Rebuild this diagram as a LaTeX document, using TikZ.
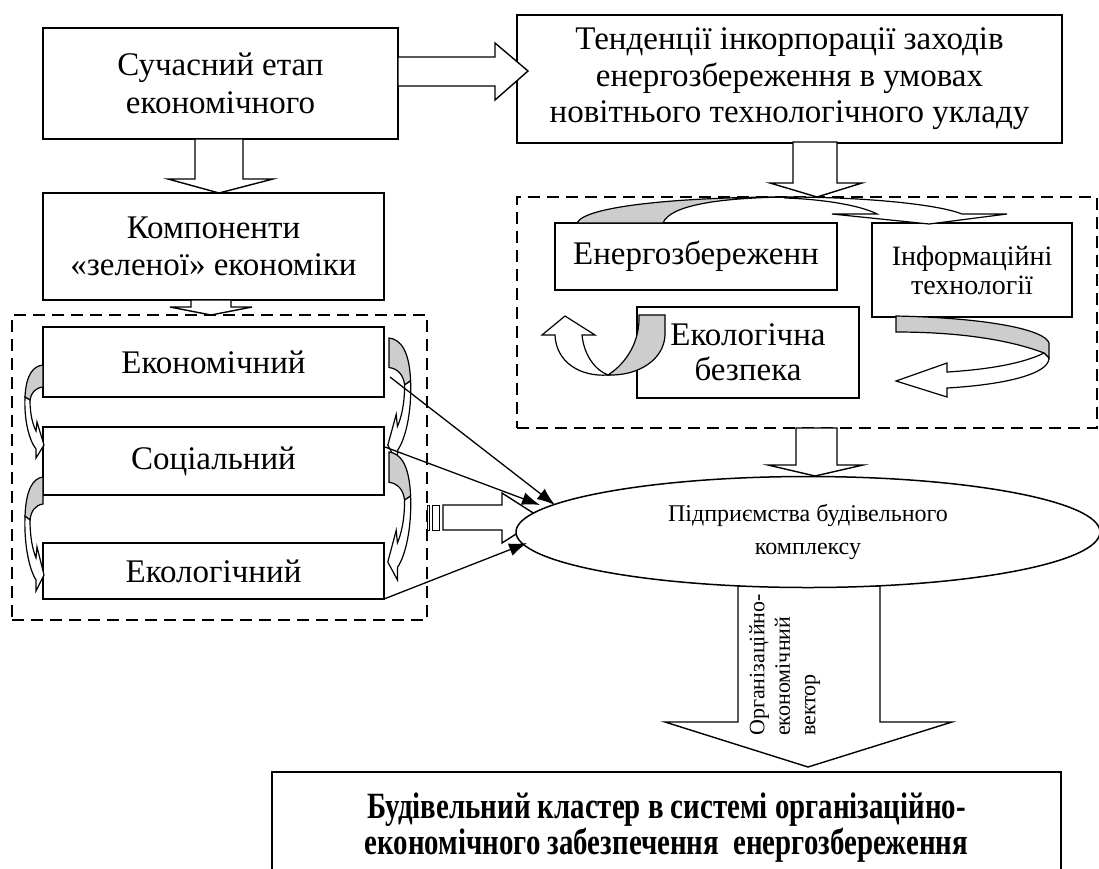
\documentclass[tikz,border=0pt]{standalone}
\usepackage{fontspec}
\setmainfont{Liberation Serif}
\newfontfamily\condbold[FakeStretch=0.78]{Liberation Serif Bold}
\usetikzlibrary{shapes.geometric,arrows.meta,calc}
\definecolor{bandgray}{RGB}{205,205,205}
\tikzset{
  box/.style={draw,line width=1.5pt,fill=white,align=center,inner sep=0pt,font=\fontsize{33}{37.5}\selectfont},
  dbox/.style={draw,line width=1.4pt,dash pattern=on 12pt off 7pt,inner sep=0pt},
  blockarrow/.style={draw,line width=1.4pt,fill=white,line join=miter},
  curv/.style={draw,line width=1.2pt},
  conn/.style={line width=1.3pt,-{Latex[length=18pt,width=13pt]}},
}
\newcommand\sidearrowshape{%
  \path[curv,fill=bandgray] (0,0) .. controls (10,1) and (17,10) .. (18,32) -- (13,35) .. controls (12,28) and (8,23) .. (0,22) -- cycle;
  \path[curv,fill=white] (13,35) .. controls (13,50) and (10,60) .. (7,66) -- (6,57) -- (-1,80) -- (7,93) -- (7,84) .. controls (14,75) and (19,55) .. (18,32) -- cycle;
}
\begin{document}
\begin{tikzpicture}[x=1pt,y=-1pt]
\useasboundingbox (0,0) rectangle (1099,868);

% containers
\node[dbox,minimum width=415pt,minimum height=305pt] (lc) at (219.5,467.5) {};
\node[dbox,minimum width=580pt,minimum height=231pt] (rc) at (807,312.5) {};

% boxes
\node[box,minimum width=355pt,minimum height=111pt] (b1) at (220.5,83.5) {Сучасний етап\\економічного};
\node[box,minimum width=545pt,minimum height=128pt,font=\fontsize{33}{36.5}\selectfont] (b3) at (789.5,79) {Тенденції інкорпорації заходів\\енергозбереження в умовах\\новітнього технологічного укладу};
\node[box,minimum width=341pt,minimum height=107pt] (b2) at (213.5,246.5) {Компоненти\\«зеленої» економіки};
\node[box,minimum width=341pt,minimum height=70pt] (eco) at (213.5,362) {Економічний};
\node[box,minimum width=341pt,minimum height=68pt] (soc) at (213.5,461) {Соціальний};
\node[box,minimum width=341pt,minimum height=56pt] (ekol) at (213.5,571) {Екологічний};
\node[box,minimum width=282pt,minimum height=67pt] (en) at (696,256.5) {Енергозбереженн};
\node[box,minimum width=200pt,minimum height=94pt,font=\fontsize{28}{29}\selectfont] (inf) at (972,270) {Інформаційні\\технології};
\node[box,minimum width=222pt,minimum height=91pt,font=\fontsize{33}{35}\selectfont] (eb) at (748,352.5) {Екологічна\\безпека};
\node[box,minimum width=789pt,minimum height=112pt,font=\condbold\fontsize{37}{36}\selectfont] (fin) at (666.5,828) {Будівельний кластер в системі організаційно-\\економічного забезпечення~ енергозбереження};

% block arrows
\path[blockarrow] (195,139) -- (195,179) -- (168,179) -- (219,193) -- (273,179) -- (243,179) -- (243,139) -- cycle;
\path[blockarrow] (191,300) -- (191,307) -- (170,307) -- (211,315) -- (252,307) -- (231,307) -- (231,300) -- cycle;
\path[blockarrow] (398,57) -- (495,57) -- (495,43) -- (528,71) -- (495,100) -- (495,86) -- (398,86) -- cycle;
\path[blockarrow] (793,142) -- (793,183) -- (770,183) -- (817,197) -- (862,183) -- (837,183) -- (837,142) -- cycle;
\path[blockarrow] (796,428) -- (796,465) -- (768,465) -- (815,476) -- (863,465) -- (837,465) -- (837,428) -- cycle;
\path[blockarrow] (738,586) -- (738,722) -- (665,722) -- (808,767) -- (952,722) -- (880,722) -- (880,586) -- cycle;
% striped arrow
\path[blockarrow,line width=1pt] (427,505) rectangle (429,530);
\path[blockarrow,line width=1pt] (432,505) rectangle (439,530);
\path[blockarrow] (443,505) -- (502,505) -- (502,493) -- (541,518) -- (502,543) -- (502,530) -- (443,530) -- cycle;

% curved arrows in right container
\path[curv,fill=bandgray] (577,223) .. controls (585,205) and (690,197) .. (785,197) .. controls (720,198) and (670,205) .. (663,223) -- cycle;
\path[curv,fill=white] (785,197) .. controls (870,197) and (940,205) .. (962,214) -- (1007,214) -- (929,224) -- (832,214) -- (877,214) .. controls (860,205) and (820,199) .. (785,198) -- cycle;

\path[curv,fill=bandgray] (896,316) .. controls (990,318) and (1045,330) .. (1049,343) -- (1049,358) -- (1044,353) .. controls (1010,340) and (960,332) .. (896,332) -- cycle;
\path[curv,fill=white] (1044,353) .. controls (1020,365) and (980,370) .. (947,372) -- (947,363) -- (896,381) -- (947,397) -- (947,388) .. controls (1000,385) and (1049,375) .. (1049,358) -- cycle;

\path[curv,fill=bandgray] (639,315) -- (665,315) -- (665,335) .. controls (664,360) and (638,376) .. (608,375) .. controls (628,362) and (640,340) .. (639,315) -- cycle;
\path[curv,fill=white] (608,375) .. controls (580,377) and (556,362) .. (555,335) -- (542,335) -- (565,316) -- (595,335) -- (582,335) .. controls (584,355) and (595,370) .. (608,375) -- cycle;

% curved arrows beside the left boxes
\begin{scope}[shift={(43,365)},xscale=-1] \sidearrowshape \end{scope}
\begin{scope}[shift={(43,477)},xscale=-1,yscale=1.225] \sidearrowshape \end{scope}
\begin{scope}[shift={(389,338)},xscale=1.2,yscale=1.34] \sidearrowshape \end{scope}
\begin{scope}[shift={(389,452)},xscale=1.2,yscale=1.375] \sidearrowshape \end{scope}

% ellipse
\node[ellipse,draw,line width=1.5pt,fill=white,minimum width=584pt,minimum height=111pt,inner sep=0pt,align=center,font=\fontsize{24}{33}\selectfont] (ell) at (808,532) {Підприємства будівельного\\комплексу};

% straight connectors
\coordinate (s1) at (390,377);
\coordinate (s2) at (385,447);
\coordinate (s3) at (384,599);
\coordinate (t1) at (555,505);
\coordinate (t2) at (540,505);
\coordinate (t3) at (527,543);
\draw[conn] (s1) -- (t1);
\draw[conn] (s2) -- (t2);
\draw[conn] (s3) -- (t3);

% label in the big arrow
\node[rotate=90,anchor=north west,align=left,inner sep=0pt,font=\fontsize{22}{25.5}\selectfont] (vec) at (749,736) {Організаційно-\\економічний\\вектор};
\end{tikzpicture}
\end{document}
